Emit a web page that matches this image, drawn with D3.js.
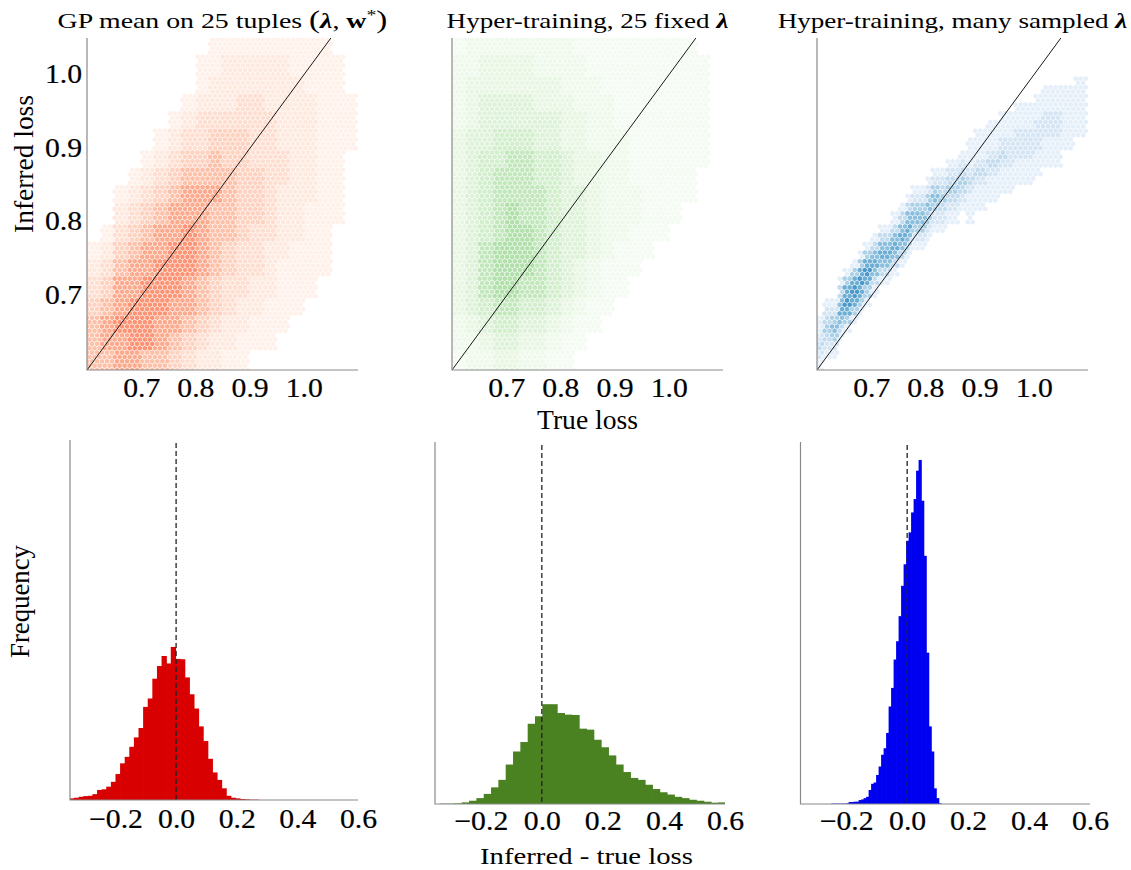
<!DOCTYPE html>
<html>
<head>
<meta charset="utf-8">
<script src="https://cdn.jsdelivr.net/npm/d3@7"></script>
<style>
  body { margin: 0; background: #fff; }
  svg { display: block; }
  text { font-family: "Liberation Serif", "Times New Roman", serif; fill: #000; }
  .tick text { font-size: 27px; stroke: #000; stroke-width: 0.2px; }
  .label { font-size: 27px; }
  .title { font-size: 21px; }
</style>
</head>
<body>
<svg id="fig" width="1131" height="870"></svg>
<script>
// ---------- axis domains and ticks ----------
const lossDomainX = [0.6, 1.1];
const lossDomainY = [0.6, 1.05];
const lossTicks = [0.7, 0.8, 0.9, 1.0];
const diffDomain = [-0.35, 0.6];
const diffTicks = [-0.2, 0.0, 0.2, 0.4, 0.6];
const densityMax = 11.1;

// ---------- binned (true loss, inferred loss) counts ----------
// rows run from inferred loss 1.05 (first) down to 0.6, columns from true loss 0.6
// to 1.1; digit = count level (0 = empty); short rows are empty to the right
const gpStep = 0.025;
const gpGrid = [
  "00000000011111111100",
  "00000000112222211110",
  "00000000122222221110",
  "00000001222332222111",
  "00000012333333222111",
  "00000123344433222111",
  "00001234454433322110",
  "00012345555443322110",
  "00123456665443222110",
  "00234566655443221110",
  "01345667655433221100",
  "12456677654332211100",
  "23566777654332111100",
  "34667776543322111000",
  "45677766543221110000",
  "56777665432211100000",
  "56677654322111000000",
  "55665543221100000000"
];
const fixedStep = 0.025;
const fixedGrid = [
  "12222222211111111100",
  "22333322221111111110",
  "23333333222111111110",
  "23444433322211111110",
  "23444444332211111110",
  "34455544332221111110",
  "34556655433221111110",
  "34566655433221111100",
  "34566665443222111100",
  "34567665443222111000",
  "34567765443221110000",
  "34677765443211100000",
  "34677765432111000000",
  "34677665432110000000",
  "34566554321100000000",
  "23455443211000000000",
  "22344332110000000000",
  "12233221100000000000"
];
const sampledStep = 0.0125;
const sampledGrid = [
  "",
  "",
  "",
  "",
  "0000000000000000000000000000000000000011",
  "0000000000000000000000000000000001111111",
  "0000000000000000000000000000000011111111",
  "0000000000000000000000000000011111111111",
  "0000000000000000000000000001111112221111",
  "0000000000000000000000000111111122221111",
  "0000000000000000000000011111122222221111",
  "0000000000000000000000111112222221111100",
  "0000000000000000000001111223222211110000",
  "0000000000000000000112122332211111110000",
  "0000000000000000011223233221111110",
  "0000000000000000122334322111111100",
  "0000000000000011243443211111100",
  "0000000000000122454332111110",
  "0000000000001344543221111",
  "0000000000013555422110100",
  "0000000001135644211",
  "00000000133565221",
  "0000000135565311",
  "00000014566531",
  "0000014665531",
  "000014675331",
  "00014676311",
  "000367641",
  "01157641",
  "0226641",
  "134541",
  "14531",
  "2341",
  "322",
  "211",
  "1"
];

// ---------- histograms of (inferred - true loss), as densities ----------
const gpBinStart = -0.352, gpBinWidth = 0.0152;
const gpDensity = [0.05, 0.07, 0.10, 0.12, 0.13, 0.18, 0.31, 0.33, 0.41, 0.56,
  0.80, 1.13, 1.33, 1.64, 1.93, 2.22, 2.87, 3.13, 3.74, 4.13,
  4.44, 4.21, 4.72, 4.35, 4.34, 3.78, 3.26, 2.82, 2.27, 1.82,
  1.27, 0.85, 0.62, 0.36, 0.13, 0.07, 0.05, 0.03, 0.02, 0.01, 0.01];

const fixedBinStart = -0.3344, fixedBinWidth = 0.024;
const fixedDensity = [0.01, 0.01, 0.02, 0.05, 0.10, 0.18, 0.31, 0.51, 0.74, 1.21,
  1.61, 1.90, 2.46, 2.69, 3.06, 3.06, 2.79, 2.74, 2.73, 2.31,
  2.28, 1.97, 1.74, 1.49, 1.21, 0.98, 0.80, 0.74, 0.59, 0.46,
  0.36, 0.29, 0.22, 0.18, 0.13, 0.10, 0.07, 0.04, 0.05];

const sampledBinStart = -0.2495, sampledBinWidth = 0.0082;
const sampledDensity = [0.01, 0.01, 0.01, 0.01, 0.01, 0.01, 0.02, 0.06, 0.06, 0.07,
  0.07, 0.12, 0.14, 0.18, 0.22, 0.43, 0.62, 0.66, 0.89, 1.15,
  1.51, 1.71, 2.18, 2.99, 3.56, 4.43, 4.99, 5.76, 6.69, 7.35,
  8.07, 8.33, 8.94, 9.35, 10.22, 10.55, 9.30, 7.61, 4.64, 2.38,
  1.61, 0.48, 0.18, 0.02];

// ---------- figure text ----------
const titles = ["GP mean on 25 tuples ", "Hyper-training, 25 fixed ", "Hyper-training, many sampled "];

// ---------- layout ----------
const svg = d3.select("#fig");
const stretch = 1.1;

// colour-map position for each count level
const redShade   = [0, 0.025, 0.07, 0.12, 0.17, 0.23, 0.30, 0.37];
const greenShade = [0, 0.02, 0.06, 0.10, 0.15, 0.20, 0.26, 0.32];
const blueShade  = [0, 0.09, 0.17, 0.25, 0.33, 0.42, 0.50, 0.60];

const topPanels = [
  {left: 87,  grid: gpGrid,      step: gpStep,      color: l => d3.interpolateReds(redShade[l]),     titleW: 330},
  {left: 452, grid: fixedGrid,   step: fixedStep,   color: l => d3.interpolateGreens(greenShade[l]), titleW: 282},
  {left: 817, grid: sampledGrid, step: sampledStep, color: l => d3.interpolateBlues(blueShade[l]),   titleW: 350}
];
const topW = 271, topTop = 38, topBottom = 370;

const bottomPanels = [
  {left: 70,    right: 358,  top: 440, bottom: 800, start: gpBinStart,      width: gpBinWidth,      dens: gpDensity,      fill: "#d80000"},
  {left: 435,   right: 725,  top: 442, bottom: 804, start: fixedBinStart,   width: fixedBinWidth,   dens: fixedDensity,   fill: "#4b8221"},
  {left: 800.5, right: 1090, top: 442, bottom: 804, start: sampledBinStart, width: sampledBinWidth, dens: sampledDensity, fill: "#0000f0"}
];

// horizontally stretch a text element about its anchor point
function stretchText(sel, factor) {
  sel.each(function () {
    const t = d3.select(this);
    const x = +t.attr("x") || 0;
    t.attr("transform", `translate(${x},0) scale(${factor},1) translate(${-x},0)`);
  });
}
// place text centred at (cx, cy) with a given total length, optionally rotated
function fitText(node, cx, cy, length, rotate) {
  const natural = node.getComputedTextLength();
  const sx = length / natural;
  d3.select(node).attr("x", 0).attr("y", 0).attr("text-anchor", "middle")
    .attr("transform", `translate(${cx},${cy})${rotate ? " rotate(-90)" : ""} scale(${sx},1)`);
}

const defs = svg.append("defs");

// ---------- top row: hexagonal density of inferred vs. true loss ----------
topPanels.forEach((p, k) => {
  const x = d3.scaleLinear().domain(lossDomainX).range([p.left, p.left + topW]);
  const y = d3.scaleLinear().domain(lossDomainY).range([topBottom, topTop]);
  const g = svg.append("g");

  defs.append("clipPath").attr("id", "clipTop" + k)
    .append("rect").attr("x", p.left).attr("y", topTop).attr("width", topW).attr("height", topBottom - topTop);

  // hexagon lattice; every hexagon takes the count level of the grid cell holding its centre
  const r = 2.9, hx = Math.sqrt(3) * r, hy = 1.5 * r;
  const hexPts = d3.range(6).map(i => {
    const a = Math.PI / 3 * i + Math.PI / 6;
    return [0.88 * r * Math.cos(a), 0.88 * r * Math.sin(a)];
  });
  const hexD = "M" + hexPts.map(q => q.join(",")).join("L") + "Z";
  const nRows = p.grid.length;
  const cells = [];
  for (let j = 0; topBottom - j * hy >= topTop - r; j++) {
    const py = topBottom - j * hy;
    for (let i = 0; p.left + i * hx <= p.left + topW + r; i++) {
      const px = p.left + i * hx + (j % 2 ? hx / 2 : 0);
      const col = Math.floor((x.invert(px) - lossDomainX[0]) / p.step + 1e-9);
      const row = Math.floor((y.invert(py) - lossDomainY[0]) / p.step + 1e-9);
      const line = p.grid[nRows - 1 - row];
      if (line === undefined || col < 0) continue;
      const lv = +(line[col] || 0);
      if (lv > 0) cells.push({px, py, lv});
    }
  }
  g.append("g").attr("clip-path", `url(#clipTop${k})`)
    .selectAll("path").data(cells).join("path")
    .attr("d", hexD)
    .attr("transform", d => `translate(${d.px},${d.py})`)
    .attr("fill", d => p.color(d.lv));

  // identity line
  g.append("line").attr("clip-path", `url(#clipTop${k})`)
    .attr("x1", x(0.6)).attr("y1", y(0.6)).attr("x2", x(1.05)).attr("y2", y(1.05))
    .attr("stroke", "#1a1a1a").attr("stroke-width", 1);

  // spines
  g.append("path")
    .attr("d", `M${p.left},${topTop}V${topBottom}H${p.left + topW}`)
    .attr("fill", "none").attr("stroke", "#8a8a8a").attr("stroke-width", 1.2);

  // x ticks
  const ax = g.append("g").attr("transform", `translate(0,${topBottom})`)
    .call(d3.axisBottom(x).tickValues(lossTicks).tickSize(0).tickFormat(d3.format(".1f")));
  ax.select(".domain").remove();
  ax.attr("font-size", null).attr("font-family", null);
  ax.selectAll("text").attr("y", 27).attr("dy", null).call(stretchText, stretch);

  // y ticks only on the first panel
  if (k === 0) {
    const ay = g.append("g").attr("transform", `translate(${p.left},0)`)
      .call(d3.axisLeft(y).tickValues(lossTicks).tickSize(0).tickFormat(d3.format(".1f")));
    ay.select(".domain").remove();
    ay.attr("font-size", null).attr("font-family", null);
    ay.selectAll("text").attr("x", -5).attr("y", 7.5).attr("dy", null).call(stretchText, stretch);
  }

  // title
  const cx = p.left + topW / 2;
  const tt = svg.append("text").attr("class", "title");
  tt.append("tspan").text(titles[k]);
  if (k === 0) {
    tt.append("tspan").style("font-size", "25px").text("(");
    tt.append("tspan").style("font-weight", "bold").style("font-style", "italic").text("λ");
    tt.append("tspan").text(", ");
    tt.append("tspan").style("font-weight", "bold").text("w");
    tt.append("tspan").attr("dy", -8).style("font-size", "15px").text("*");
    tt.append("tspan").attr("dy", 8).style("font-size", "25px").text(")");
  } else {
    tt.append("tspan").style("font-weight", "bold").style("font-style", "italic").text("λ");
  }
  fitText(tt.node(), cx, 28, p.titleW, false);
});

// ---------- bottom row: histograms of the error ----------
bottomPanels.forEach((p, k) => {
  const x = d3.scaleLinear().domain(diffDomain).range([p.left, p.right]);
  const y = d3.scaleLinear().domain([0, densityMax]).range([p.bottom, p.top]);
  const g = svg.append("g");

  defs.append("clipPath").attr("id", "clipBot" + k)
    .append("rect").attr("x", p.left).attr("y", p.top).attr("width", p.right - p.left).attr("height", p.bottom - p.top);

  const bins = p.dens.map((v, i) => ({x0: p.start + i * p.width, x1: p.start + (i + 1) * p.width, v}));
  g.append("g").attr("clip-path", `url(#clipBot${k})`)
    .selectAll("rect").data(bins).join("rect")
    .attr("x", d => x(d.x0))
    .attr("width", d => x(d.x1) - x(d.x0) + 0.7)
    .attr("y", d => y(d.v))
    .attr("height", d => y(0) - y(d.v))
    .attr("fill", p.fill);

  // zero-error reference
  g.append("line")
    .attr("x1", x(0)).attr("x2", x(0)).attr("y1", p.top + 3).attr("y2", p.bottom)
    .attr("stroke", "#222").attr("stroke-width", 1.3).attr("stroke-dasharray", "5,3");

  g.append("path")
    .attr("d", `M${p.left},${p.top}V${p.bottom}H${p.right}`)
    .attr("fill", "none").attr("stroke", "#8a8a8a").attr("stroke-width", 1.2);

  const ax = g.append("g").attr("transform", `translate(0,${p.bottom})`)
    .call(d3.axisBottom(x).tickValues(diffTicks).tickSize(0).tickFormat(d3.format(".1f")));
  ax.select(".domain").remove();
  ax.attr("font-size", null).attr("font-family", null);
  ax.selectAll("text").attr("y", k === 0 ? 28 : 26).attr("dy", null).call(stretchText, stretch);
});

// ---------- axis labels ----------
const lab1 = svg.append("text").attr("class", "label").text("Inferred loss");
fitText(lab1.node(), 33, 164, 138, true);
const lab2 = svg.append("text").attr("class", "label").text("True loss");
fitText(lab2.node(), 587.5, 429, 101, false);
const lab3 = svg.append("text").attr("class", "label").text("Frequency");
fitText(lab3.node(), 29, 601.5, 113, true);
const lab4 = svg.append("text").attr("class", "label").style("font-size", "23px").text("Inferred - true loss");
fitText(lab4.node(), 586.5, 864, 213, false);
</script>
</body>
</html>
